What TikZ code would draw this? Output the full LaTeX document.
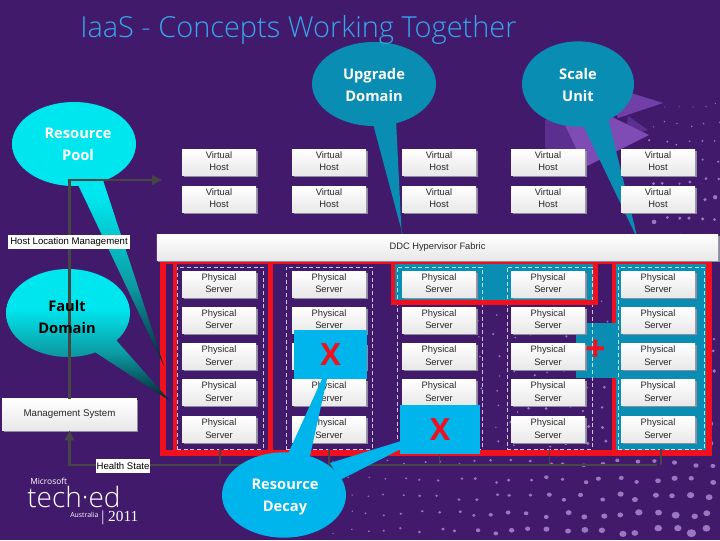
\documentclass[tikz,border=0pt]{standalone}
\usepackage{fontspec}
\usetikzlibrary{shapes.geometric,arrows.meta,shadows,calc}
\setmainfont{Open Sans}
\newfontfamily\lightf{Open Sans Light}
\newfontfamily\boxf{Liberation Sans}
\newfontfamily\serf{Liberation Serif}
\definecolor{bgc}{HTML}{421A6B}
\definecolor{titlec}{HTML}{36A6EE}
\definecolor{tealc}{HTML}{0A8DB3}
\definecolor{decayc}{HTML}{00B4EC}
\definecolor{redc}{HTML}{F0101E}
\definecolor{wirec}{HTML}{464646}
\definecolor{dotc}{HTML}{9A78C0}
\definecolor{shadowc}{HTML}{8E8AA0}
\definecolor{cyanc}{HTML}{00E6EE}
\definecolor{midc}{HTML}{0C9AA2}
\definecolor{darkc}{HTML}{06202C}
\definecolor{decoa}{HTML}{5B2F90}
\definecolor{decob}{HTML}{7040A8}
\definecolor{decoc}{HTML}{7F4BB4}
\pgfdeclareverticalshading{poolgrad}{100bp}{color(0bp)=(darkc); color(25bp)=(darkc); color(40bp)=(midc); color(57bp)=(cyanc); color(100bp)=(cyanc)}
\pgfdeclareverticalshading{faultgrad}{100bp}{color(0bp)=(darkc); color(25bp)=(darkc); color(43bp)=(midc); color(60bp)=(cyanc); color(100bp)=(cyanc)}
\tikzset{
  box/.style={rectangle,inner sep=0pt,top color=white,bottom color=black!9,
    general shadow={fill=shadowc,shadow xshift=1.2pt,shadow yshift=-1.2pt},
    text=black!85,align=center,text depth=1.5pt,font=\boxf\fontsize{7}{9.4}\selectfont},
  hostbox/.style={box,minimum width=55.5pt,minimum height=19.5pt},
  flat/.style={rectangle,fill=white,inner sep=0pt,text=black,font=\boxf\fontsize{7.2}{9}\selectfont},
  bubtext/.style={inner sep=0pt,align=center,text=white,font=\bfseries\fontsize{11}{16.5}\selectfont},
  dashcol/.style={rectangle,draw=white,draw opacity=0.75,densely dashed,line width=0.3pt,inner sep=0pt},
  wire/.style={draw=wirec,line width=1.7pt},
  tip/.style={-{Triangle[length=7.5pt,width=7pt]}},
  redl/.style={draw=redc},
  markbox/.style={rectangle,inner sep=0pt,text=redc,font=\bfseries\fontsize{23}{23}\selectfont},
}
\begin{document}
\begin{tikzpicture}[x=0.75pt,y=-0.75pt]
\useasboundingbox (0,0) rectangle (720,540);
\fill[bgc] (0,0) rectangle (720,540);
% background dots
\pgfmathsetseed{42}
\foreach \i in {0,...,21}{\foreach \j in {0,...,4}{
  \pgfmathsetmacro\dotx{332+\i*18+4*rand}
  \pgfmathsetmacro\doty{463+\j*17+3*rand}
  \pgfmathsetmacro\dotr{0.7+4.2*(\i/21)*(0.4+0.6*(\j+1)/5)*(0.7+0.3*rnd)}
  \fill[dotc] (\dotx,\doty) ellipse [x radius=\dotr,y radius=\dotr*0.85];
}}
\foreach \i in {0,...,13}{\foreach \j in {0,...,8}{
  \pgfmathsetmacro\dotx{478+\i*18+4*rand}
  \pgfmathsetmacro\doty{300+\j*18+4*rand}
  \pgfmathsetmacro\dotr{0.6+1.6*(\i/13)*(\j+1)/9+rnd*0.5}
  \fill[dotc] (\dotx,\doty) circle [radius=\dotr];
}}
\foreach \i in {0,...,5}{\foreach \j in {0,...,7}{
  \pgfmathsetmacro\dotx{652+\i*13+3*rand}
  \pgfmathsetmacro\doty{105+\j*19+3*rand}
  \pgfmathsetmacro\dotr{0.6+2.2*(\j/7)*(0.4+0.6*rnd)}
  \fill[dotc] (\dotx,\doty) circle [radius=\dotr];
}}
% arrow-shaped decoration behind Scale Unit
\fill[decoa] (545,120)--(600,120)--(590,165)--(545,148)--cycle;
\fill[decob] (605,85)--(663,103)--(618,118)--cycle;
\fill[decoa] (628,116)--(648,130)--(625,136)--cycle;
\fill[decoc] (565,125)--(610,116)--(649,135)--(585,167)--cycle;
% teal fills
\fill[tealc] (393,262) rectangle (595,302);
\fill[tealc] (613,262) rectangle (708,452);
\fill[tealc] (576,323) rectangle (615,378);
% upper callouts
\fill[tealc] (372,120)--(410,262)--(403,262)--(396,120)--cycle;
\fill[tealc] (583,125)--(608,118)--(638,240)--cycle;
\node[ellipse,fill=tealc,minimum width=93pt,minimum height=63pt,inner sep=0pt] (upg) at (374,84) {};
\node[ellipse,fill=tealc,minimum width=84pt,minimum height=64pt,inner sep=0pt] (scl) at (578,84) {};
% dashed columns
\foreach \n/\xa/\xb in {1/177/263,2/286/372,3/397/482,4/507/592,5/618/704}{
  \pgfmathsetmacro\colw{(\xb-\xa)*0.75}
  \node[dashcol,minimum width=\colw pt,minimum height=136.5pt] (col\n) at ({(\xa+\xb)/2},358) {};
}
% red frames
\draw[redl,line width=4pt] (163,261.5) rectangle (709,453);
\draw[redl,line width=3pt] (174.5,262) -- (174.5,452);
\draw[redl,line width=3.5pt] (270.5,262) -- (270.5,452);
\draw[redl,line width=3.5pt] (393,262) rectangle (595.5,302.5);
\draw[redl,line width=3pt] (614,262) -- (614,323) (614,378) -- (614,452);
% gradient callouts
\path[shading=poolgrad] (74,144) ellipse [x radius=62,y radius=42] (99,168) -- (164,366) -- (72,172) -- cycle;
\path[shading=faultgrad] (68,313) ellipse [x radius=62,y radius=44] (108,331) -- (170,401) -- (84,345) -- cycle;
% virtual hosts and physical servers
\foreach \cc/\xc in {1/219,2/329,3/439,4/548,5/658}{
  \foreach \rw/\yc in {1/162,2/199}{\node[hostbox] (vh-\cc-\rw) at (\xc,\yc) {Virtual\\Host};}
  \foreach \rw/\yc in {1/284,2/320,3/356.5,4/392.5,5/429.5}{
    \def\ptext{Physical\\Server}
    \ifnum\cc\rw=23 \def\ptext{}\fi
    \ifnum\cc\rw=35 \def\ptext{}\fi
    \node[hostbox] (ps-\cc-\rw) at (\xc,\yc) {\ptext};}
}
% fabric
\node[box,minimum width=421pt,minimum height=19.5pt] (fabric) at (437.5,247) {DDC Hypervisor Fabric};
% management
\node[box,minimum width=101pt,minimum height=23.5pt,font=\boxf\fontsize{7.3}{9}\selectfont] (mgmt) at (69.5,414.5) {Management System};
% wires
\coordinate (bus) at (657,465);
\coordinate (hostin) at (162,180);
\draw[wire,tip] (mgmt.north) -- (mgmt.north |- hostin) -- (hostin);
\draw[wire,tip] (bus) -- (bus -| mgmt.south) -- (mgmt.south);
\foreach \n in {1,2,3,4,5}{\draw[draw=wirec,line width=1pt] (col\n.south) -- (col\n.south |- bus);}
\node[flat,minimum width=91.5pt,minimum height=10.5pt] (hostloc) at (69,242) {Host Location Management};
\node[flat,minimum width=40.5pt,minimum height=10.5pt] (health) at (123,466) {Health State};
% X and + marks
\node[markbox,font=\bfseries\fontsize{27}{27}\selectfont] (plus) at (596,351) {+};
\node[markbox,fill=decayc,minimum width=55pt,minimum height=37pt] (x1) at (330.5,354.5) {X};
\node[markbox,fill=decayc,minimum width=60pt,minimum height=37pt] (x2) at (440,429.5) {X};
% resource decay callout
\fill[decayc] (287,456) -- (322,379) -- (327,379) -- (310,456) -- cycle;
\fill[decayc] (330,463) -- (401,441) -- (401,449) -- (340,480) -- cycle;
\node[ellipse,fill=decayc,minimum width=93pt,minimum height=64pt,inner sep=0pt] (decay) at (284,495) {};
% callout texts
\node[bubtext] (t-upg) at (374,84.5) {Upgrade\\Domain};
\node[bubtext] (t-scl) at (578,84.5) {Scale\\Unit};
\node[bubtext] (t-pool) at (78,144.5) {Resource\\Pool};
\node[bubtext,text=black] (t-fault) at (67,317) {Fault\\Domain};
\node[bubtext] (t-decay) at (285,497.5) {Resource\\Decay};
% title
\node[anchor=base west,inner sep=0pt,text=titlec,font=\lightf\fontsize{21.7}{24}\selectfont] (title) at (80,37) {IaaS - Concepts Working Together};
% logo
\node[anchor=base west,inner sep=0pt,text=white,font=\fontsize{6.3}{7}\selectfont] (ms) at (30,484) {Microsoft};
\node[anchor=base west,inner sep=0pt,text=white,font=\lightf\fontsize{21}{24}\selectfont] (teched) at (27,507) {tech·ed};
\node[anchor=base west,inner sep=0pt,text=white,font=\fontsize{5.2}{6}\selectfont] (aus) at (70,517) {Australia};
\node[anchor=base west,inner sep=0pt,text=white,font=\serf\fontsize{11.5}{14}\selectfont] (yr) at (101,521) {| 2011};
\end{tikzpicture}
\end{document}
